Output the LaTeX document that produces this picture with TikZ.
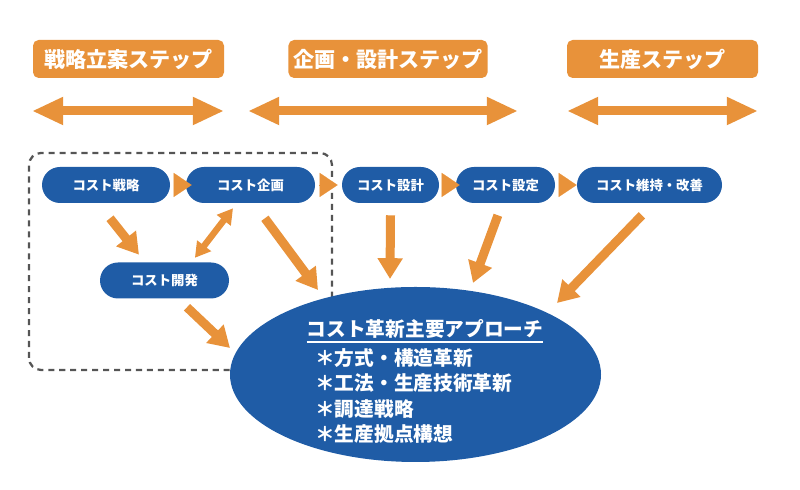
\documentclass[tikz,border=0pt]{standalone}
\usepackage{fontspec}
\newfontfamily\jp{Noto Sans CJK JP}
\usetikzlibrary{shapes.geometric, arrows.meta, positioning, calc}
\definecolor{stepor}{HTML}{E8923A}
\definecolor{costblue}{HTML}{1F5CA6}
\definecolor{boxgray}{HTML}{555555}

\begin{document}
\begin{tikzpicture}[
    stepbox/.style={fill=stepor, rounded corners=4pt, minimum width=4.775cm, minimum height=0.95cm, text=white, font=\jp\bfseries\fontsize{15}{18}\selectfont},
    costbox/.style={fill=costblue, rounded corners=0.45cm, minimum height=0.9cm, text=white, font=\jp\bfseries\fontsize{9.5}{11}\selectfont},
    steparrow/.style={draw=stepor, line width=0.225cm, {Triangle[length=0.78cm,width=0.65cm]}-{Triangle[length=0.78cm,width=0.65cm]}},
    fatarrow/.style={draw=stepor, line width=0.225cm, -{Triangle[length=0.52cm,width=0.6cm]}},
    thinarrow/.style={draw=stepor, line width=0.16cm, {Triangle[length=0.38cm,width=0.42cm]}-{Triangle[length=0.38cm,width=0.42cm]}},
    tri/.style={draw=stepor, line width=0.1pt, shorten <=0.1cm, -{Triangle[length=0.45cm,width=0.6cm]}},
    whitetext/.style={text=white, inner sep=0pt, font=\jp\bfseries\fontsize{14}{17.8}\selectfont}
]
    \useasboundingbox (0,0) rectangle (20,12.25);

    % steps
    \node[stepbox] (h1) at (3.2125, 10.775) {戦略立案ステップ};
    \node[stepbox] (h2) at (9.7, 10.775) {企画・設計ステップ};
    \node[stepbox] (h3) at (16.5625, 10.775) {生産ステップ};

    \coordinate (a1l) at (0.8, 9.475);
    \coordinate (a1r) at (5.6, 9.475);
    \coordinate (a2l) at (6.2, 9.475);
    \coordinate (a2r) at (12.95, 9.475);
    \coordinate (a3l) at (14.175, 9.475);
    \coordinate (a3r) at (18.95, 9.475);
    \draw[steparrow] (a1l) -- (a1r);
    \draw[steparrow] (a2l) -- (a2r);
    \draw[steparrow] (a3l) -- (a3r);

    % strategy group
    \draw[boxgray, line width=1.6pt, dash pattern=on 4.3pt off 3.5pt, rounded corners=0.3cm] (0.725, 3.0) rectangle (8.3, 8.425);

    \node[costbox, minimum width=3.2cm] (s1) at (2.65, 7.625) {コスト戦略};
    \node[costbox, minimum width=3.225cm] (s2) at (6.2625, 7.625) {コスト企画};
    \node[costbox, minimum width=2.425cm] (s3) at (9.7625, 7.625) {コスト設計};
    \node[costbox, minimum width=2.475cm] (s4) at (12.6375, 7.625) {コスト設定};
    \node[costbox, minimum width=3.625cm] (s5) at (16.2375, 7.625) {コスト維持・改善};
    \node[costbox, minimum width=3.225cm] (dev) at (4.1125, 5.2375) {コスト開発};

    % approaches
    \node[ellipse, fill=costblue, minimum width=9.275cm, minimum height=4.375cm] (ell) at (10.3875, 2.8875) {};
    \node[whitetext] (apr) at (10.625, 4.025) {コスト革新主要アプローチ};
    \draw[white, line width=1pt] ($(apr.south west)+(0,-0.08)$) -- ($(apr.south east)+(0,-0.08)$);
    \node[whitetext, align=left, anchor=west] (items) at (7.875, 2.35) {＊方式・構造革新\\＊工法・生産技術革新\\＊調達戦略\\＊生産拠点構想};

    \draw[tri, shorten >=-0.15cm] (s1.east) -- (s2.west);
    \draw[tri, shorten >=0.1cm] (s2.east) -- (s3.west);
    \draw[tri, shorten >=-0.1cm] (s3.east) -- (s4.west);
    \draw[tri] (s4.east) -- (s5.west);

    \draw[fatarrow] ($(s1.south)+(0.1,-0.375)$) -- ($(dev.north)+(-0.6375,0.1875)$);
    \draw[thinarrow] ($(s2.south)+(-0.4375,-0.125)$) -- ($(dev.north)+(0.76,0.11)$);
    \draw[fatarrow] ($(s2.south)+(0.36,-0.375)$) -- ($(ell.center)+(-2.4375,2.1125)$);
    \draw[fatarrow] ($(dev.south)+(0.5625,-0.2125)$) -- ($(ell.center)+(-4.6375,0.6625)$);
    \draw[fatarrow] ($(s3.south)+(0,-0.3)$) -- ($(ell.center)+(-0.6375,2.3875)$);
    \draw[fatarrow] ($(s4.south)+(-0.19,-0.3)$) -- ($(ell.center)+(1.4375,2.2875)$);
    \draw[fatarrow] ($(s5.south)+(-0.19,-0.3)$) -- ($(ell.center)+(3.5375,1.7875)$);
\end{tikzpicture}
\end{document}
